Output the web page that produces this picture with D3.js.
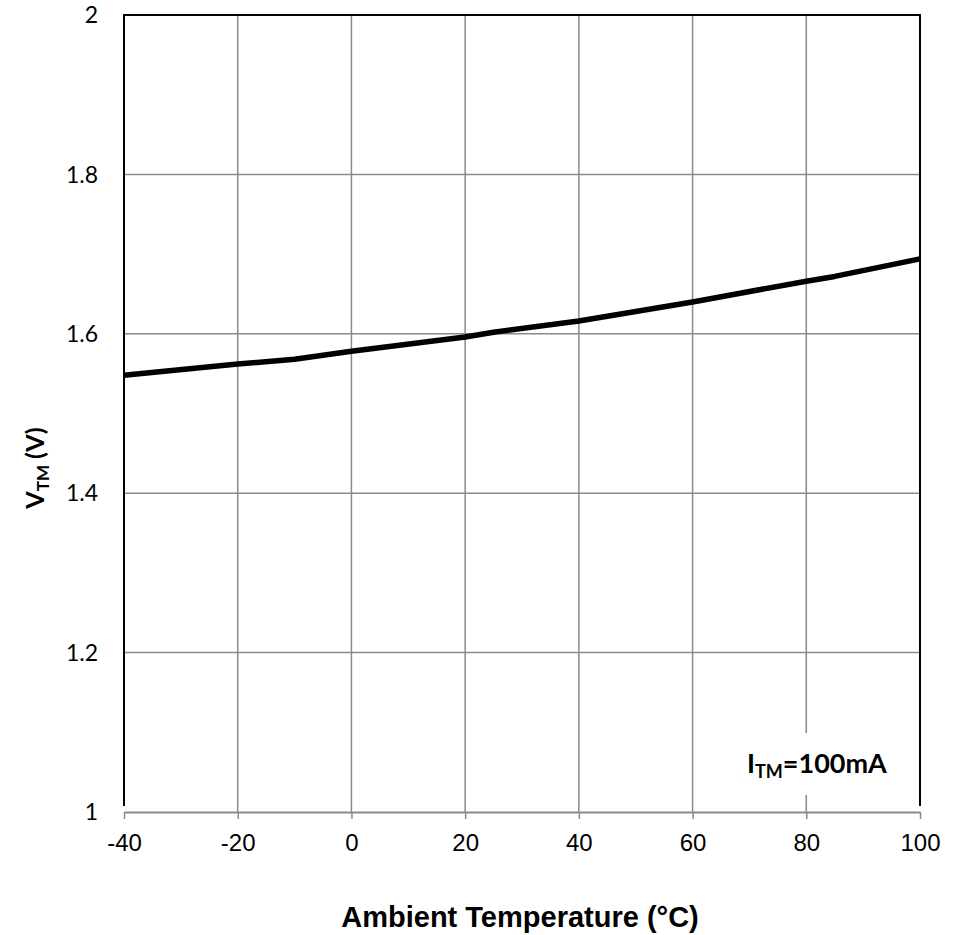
<!DOCTYPE html>
<html>
<head>
<meta charset="utf-8">
<script src="https://cdn.jsdelivr.net/npm/d3@7"></script>
<style>
  body { margin: 0; background: #fff; }
  svg { display: block; }
</style>
</head>
<body>
<svg id="chart" width="968" height="935"></svg>
<script>
const temps = [-40, -20, -10, 0, 20, 25, 40, 60, 80, 85, 100];
const vtm   = [1.548, 1.562, 1.568, 1.578, 1.596, 1.602, 1.616, 1.640, 1.666, 1.672, 1.694];
const xTicks = [-40, -20, 0, 20, 40, 60, 80, 100];
const yTicks = [1, 1.2, 1.4, 1.6, 1.8, 2];

const svg = d3.select("#chart");
const plotL = 124, plotR = 920, plotT = 15, plotB = 812;
const gridColor = "#8a8a8a";

const x = d3.scaleLinear().domain([-40, 100]).range([plotL, plotR]);
const y = d3.scaleLinear().domain([1, 2]).range([plotB, plotT]);

// grid
svg.append("g")
  .selectAll("line")
  .data(xTicks.slice(1, -1))
  .join("line")
  .attr("x1", d => x(d)).attr("x2", d => x(d))
  .attr("y1", plotT).attr("y2", plotB)
  .attr("stroke", gridColor).attr("stroke-width", 1.5);

svg.append("g")
  .selectAll("line")
  .data(yTicks.slice(1, -1))
  .join("line")
  .attr("x1", plotL).attr("x2", plotR)
  .attr("y1", d => y(d)).attr("y2", d => y(d))
  .attr("stroke", gridColor).attr("stroke-width", 1.5);

// annotation box hides the grid behind it
svg.append("rect")
  .attr("x", 725).attr("y", 733)
  .attr("width", 180).attr("height", 62)
  .attr("fill", "#fff");

// bottom axis (grey, ticks outward), plain hyphen for negatives
const xAxis = svg.append("g")
  .attr("transform", `translate(0,${plotB})`)
  .call(d3.axisBottom(x).tickValues(xTicks).tickSize(7).tickSizeOuter(0).tickPadding(15).tickFormat(d => String(d)));
xAxis.select(".domain").attr("stroke", gridColor).attr("stroke-width", 2);
xAxis.selectAll(".tick line").attr("stroke", gridColor).attr("stroke-width", 1.5);
xAxis.selectAll(".tick text")
  .attr("fill", "#000")
  .attr("font-family", "'Liberation Sans', Arial, sans-serif")
  .attr("font-size", 24);

// frame: left, top, right in black
svg.append("path")
  .attr("d", `M${plotL},${plotB - 6}V${plotT}H${plotR}V${plotB - 6}`)
  .attr("fill", "none")
  .attr("stroke", "#000")
  .attr("stroke-width", 2);

// y tick labels
svg.append("g")
  .attr("font-family", "Lato, 'Open Sans', sans-serif")
  .attr("font-size", 23)
  .attr("text-anchor", "end")
  .selectAll("text")
  .data(yTicks)
  .join("text")
  .attr("x", 98)
  .attr("y", d => y(d))
  .attr("dy", "0.36em")
  .text(d => String(d));

// curve
const line = d3.line()
  .x((d, i) => x(temps[i]))
  .y(d => y(d));

svg.append("path")
  .datum(vtm)
  .attr("d", line)
  .attr("fill", "none")
  .attr("stroke", "#000")
  .attr("stroke-width", 5.5)
  .attr("stroke-linejoin", "round");

// annotation
const note = svg.append("text")
  .attr("x", 747).attr("y", 773)
  .attr("font-family", "Lato, 'Open Sans', sans-serif")
  .attr("font-weight", "bold")
  .attr("font-size", 27);
note.append("tspan").text("I");
note.append("tspan").attr("font-size", 18).attr("dy", 5).text("TM");
note.append("tspan").attr("dy", -5).text("=100mA");

// axis titles
svg.append("text")
  .attr("x", 520).attr("y", 927)
  .attr("text-anchor", "middle")
  .attr("font-family", "'Liberation Sans', Arial, sans-serif")
  .attr("font-weight", "bold")
  .attr("font-size", 29)
  .text("Ambient Temperature (°C)");

const yTitle = svg.append("text")
  .attr("transform", "translate(44,468) rotate(-90)")
  .attr("text-anchor", "middle")
  .attr("font-family", "Lato, 'Open Sans', sans-serif")
  .attr("font-weight", "bold")
  .attr("font-size", 25);
yTitle.append("tspan").text("V");
yTitle.append("tspan").attr("font-size", 17).attr("dy", 5).text("TM");
yTitle.append("tspan").attr("dy", -5).text(" (V)");
</script>
</body>
</html>
